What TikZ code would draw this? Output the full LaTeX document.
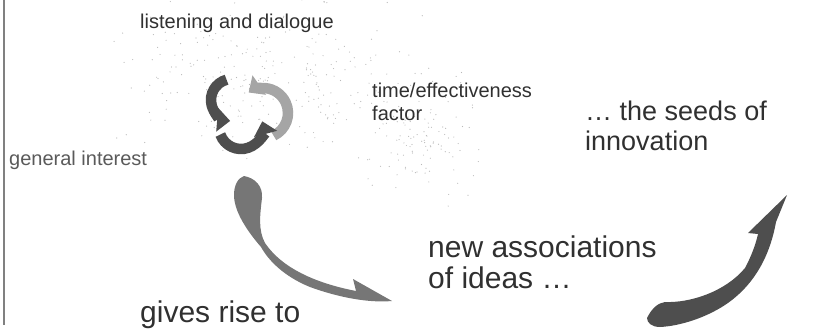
\documentclass[tikz,border=0pt]{standalone}
\usepackage{fontspec}
\setmainfont{Liberation Sans}
\usetikzlibrary{arrows.meta, positioning, calc}
\definecolor{inkgray}{RGB}{48,48,48}
\definecolor{swirldark}{RGB}{78,78,78}
\definecolor{swirllight}{RGB}{165,165,165}
\definecolor{sweepgray}{RGB}{118,118,118}
\definecolor{speckle}{RGB}{185,185,185}

\begin{document}
\begin{tikzpicture}[x=1pt, y=-1pt,
    phrase/.style={inner sep=0pt, anchor=base west, align=left, text=inkgray, font=\fontsize{20}{23}\selectfont},
    bigphrase/.style={phrase, font=\fontsize{30}{31}\selectfont},
    swirl/.style={line width=10.5pt, draw=swirldark, -{Triangle[width=23pt, length=13pt]}},
    sweep/.style={fill=sweepgray, draw=none}
    ]
    \useasboundingbox (0,0) rectangle (829,332);

    % scanned speckle behind the cycle
    \pgfmathsetseed{17}
    \foreach \i in {1,...,260}{
        \pgfmathsetmacro{\px}{265+80*(rand+rand)}
        \pgfmathsetmacro{\py}{75+45*(rand+rand)}
        \fill[speckle] (\px,\py) circle[radius=0.6];
    }
    \foreach \i in {1,...,120}{
        \pgfmathsetmacro{\px}{415+35*(rand+rand)}
        \pgfmathsetmacro{\py}{135+40*(rand+rand)}
        \fill[speckle] (\px,\py) circle[radius=0.6];
    }

    % left frame line
    \draw[gray, line width=1.2pt] (4,0) -- (4,325);

    % labels (base = last line)
    \node[phrase] (listen) at (140,28) {listening and dialogue};
    \node[phrase] (timef) at (372,120) {time/effectiveness\\factor};
    \node[phrase, text=inkgray!80] (general) at (9,165) {general interest};
    \node[bigphrase, font=\fontsize{27}{30}\selectfont] (seeds) at (585,150) {\dots\ the seeds of\\innovation};
    \node[bigphrase] (assoc) at (428,288) {new associations\\of ideas \dots};
    \node[bigphrase] (rise) at (140,322) {gives rise to};

    % the cycle
    \coordinate (swirlA) at (232,100);
    \coordinate (swirlB) at (241,127);
    \coordinate (swirlC) at (263,113);
    \draw[swirl, draw=swirllight] ([shift={(65:25)}]swirlC) arc[start angle=65, end angle=-125, radius=25];
    \draw[swirl] ([shift={(255:21)}]swirlA) arc[start angle=255, end angle=95, radius=21];
    \draw[swirl] ([shift={(160:22)}]swirlB) arc[start angle=160, end angle=-15, radius=22];

    % sweep down to "new associations"
    \fill[sweep] (244,176) .. controls (255,178) and (263,186) .. (262,198)
        .. controls (260,215) and (258,230) .. (265,243)
        .. controls (282,268) and (315,283) .. (356,291)
        -- (353,279) -- (392,301)
        .. controls (370,303) and (340,298) .. (310,287)
        .. controls (290,279) and (271,265) .. (261,247)
        .. controls (248,232) and (234,212) .. (234,195)
        .. controls (234,185) and (238,178) .. (244,176) -- cycle;

    % sweep up to the seeds
    \fill[sweep, fill=swirldark] (647,318) .. controls (652,308) and (658,303) .. (665,302)
        .. controls (690,303) and (725,292) .. (745,268)
        .. controls (752,255) and (756,243) .. (758,234)
        -- (748,233) -- (787,195) -- (776,222)
        .. controls (770,255) and (755,285) .. (725,305)
        .. controls (705,318) and (680,326) .. (660,327)
        .. controls (652,327) and (647,323) .. (647,318) -- cycle;
\end{tikzpicture}
\end{document}
